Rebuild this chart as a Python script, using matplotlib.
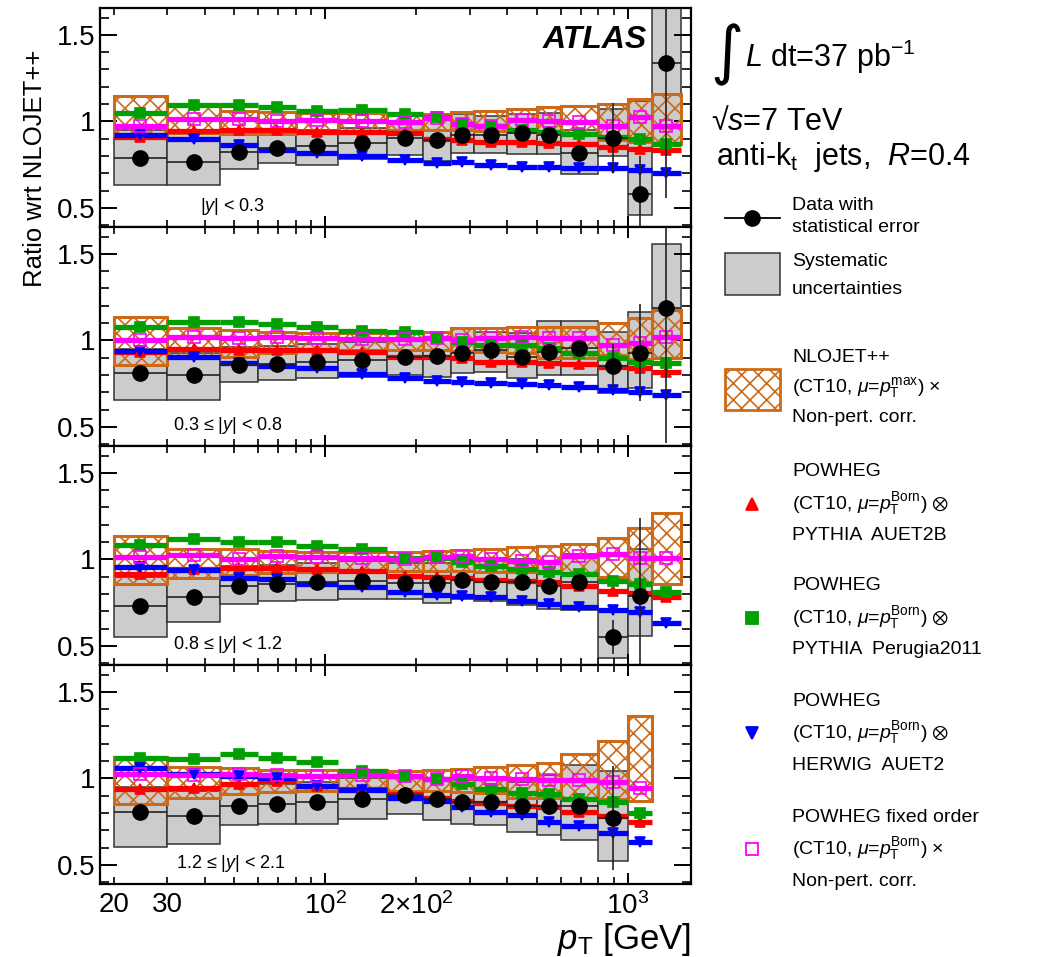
import numpy as np
import matplotlib
matplotlib.use('Agg')
import matplotlib.pyplot as plt
from matplotlib.ticker import FixedLocator, MultipleLocator, FuncFormatter, NullFormatter
from matplotlib.patches import Rectangle

plt.rcParams['font.family'] = ['Liberation Sans', 'DejaVu Sans']
plt.rcParams['mathtext.fontset'] = 'custom'
plt.rcParams['mathtext.rm'] = 'Liberation Sans'
plt.rcParams['mathtext.it'] = 'Liberation Sans:italic'
plt.rcParams['mathtext.bf'] = 'Liberation Sans:bold'
plt.rcParams['mathtext.fallback'] = 'stixsans'
plt.rcParams['hatch.linewidth'] = 1.2

# pT bin edges [GeV]
edges = [20, 30, 45, 60, 80, 110, 160, 210, 260, 310, 400, 500, 600, 800, 1000, 1200, 1500]

rap_labels = [r'$|y|$ < 0.3', r'0.3 ≤ $|y|$ < 0.8', r'0.8 ≤ $|y|$ < 1.2', r'1.2 ≤ $|y|$ < 2.1']

# data / NLOJET++ with stat. errors
data_1 = [0.79, 0.767, 0.824, 0.847, 0.856, 0.877, 0.904, 0.892, 0.919, 0.923, 0.934, 0.923, 0.816, 0.904, 0.58, 1.338]
data_2 = [0.814, 0.801, 0.858, 0.862, 0.877, 0.887, 0.902, 0.912, 0.925, 0.944, 0.902, 0.935, 0.954, 0.852, 0.929, 1.19]
data_3 = [0.73, 0.785, 0.849, 0.858, 0.868, 0.877, 0.862, 0.862, 0.883, 0.872, 0.868, 0.849, 0.868, 0.552, 0.787]
data_4 = [0.807, 0.785, 0.838, 0.851, 0.866, 0.883, 0.904, 0.883, 0.864, 0.861, 0.842, 0.842, 0.842, 0.771]

stat_1 = [0.004, 0.004, 0.005, 0.005, 0.005, 0.006, 0.006, 0.008, 0.01, 0.012, 0.018, 0.03, 0.04, 0.2, 0.22, 0.78]
stat_2 = [0.004, 0.004, 0.005, 0.005, 0.005, 0.006, 0.006, 0.008, 0.01, 0.012, 0.018, 0.03, 0.04, 0.13, 0.28, 0.78]
stat_3 = [0.004, 0.004, 0.005, 0.005, 0.005, 0.006, 0.006, 0.008, 0.01, 0.012, 0.018, 0.03, 0.04, 0.1, 0.45]
stat_4 = [0.004, 0.004, 0.005, 0.005, 0.005, 0.006, 0.006, 0.008, 0.01, 0.012, 0.018, 0.03, 0.05, 0.3]

# systematic uncertainty band on data
sys_lo_1 = [0.635, 0.635, 0.725, 0.76, 0.75, 0.785, 0.805, 0.77, 0.82, 0.82, 0.81, 0.81, 0.695, 0.8, 0.46, 0.87]
sys_hi_1 = [0.95, 0.93, 0.93, 0.94, 0.95, 0.96, 1.0, 1.02, 1.04, 1.03, 1.04, 1.05, 0.95, 1.07, 1.12, 1.8]
sys_lo_2 = [0.653, 0.653, 0.757, 0.77, 0.782, 0.79, 0.80, 0.79, 0.81, 0.82, 0.782, 0.8, 0.8, 0.695, 0.724, 0.9]
sys_hi_2 = [0.95, 0.93, 0.96, 0.97, 0.98, 0.99, 1.0, 1.02, 1.069, 1.05, 1.04, 1.113, 1.113, 1.05, 1.165, 1.557]
sys_lo_3 = [0.552, 0.638, 0.743, 0.762, 0.765, 0.772, 0.77, 0.75, 0.77, 0.76, 0.734, 0.715, 0.705, 0.43, 0.56]
sys_hi_3 = [0.9, 0.93, 0.96, 0.97, 0.98, 0.99, 0.98, 0.98, 1.0, 1.0, 1.0, 0.99, 1.031, 0.70, 1.06]
sys_lo_4 = [0.604, 0.623, 0.728, 0.737, 0.737, 0.766, 0.794, 0.76, 0.737, 0.728, 0.69, 0.671, 0.642, 0.523]
sys_hi_4 = [0.95, 0.93, 0.96, 0.97, 0.98, 1.0, 1.01, 1.0, 0.99, 0.99, 0.98, 1.02, 1.079, 1.045]

# NLOJET++ (CT10) x non-pert. corr. uncertainty band
nlo_lo_1 = [0.92, 0.935, 0.93, 0.93, 0.94, 0.945, 0.948, 0.948, 0.948, 0.945, 0.94, 0.935, 0.93, 0.89, 0.88, 0.871]
nlo_hi_1 = [1.148, 1.094, 1.06, 1.055, 1.05, 1.05, 1.043, 1.043, 1.052, 1.062, 1.071, 1.081, 1.087, 1.1, 1.129, 1.157]
nlo_lo_2 = [0.858, 0.906, 0.906, 0.93, 0.94, 0.945, 0.945, 0.945, 0.94, 0.935, 0.93, 0.897, 0.897, 0.916, 0.89, 0.897]
nlo_hi_2 = [1.136, 1.069, 1.06, 1.05, 1.045, 1.04, 1.045, 1.05, 1.069, 1.069, 1.075, 1.079, 1.079, 1.098, 1.13, 1.174]
nlo_lo_3 = [0.858, 0.895, 0.91, 0.92, 0.93, 0.935, 0.935, 0.935, 0.935, 0.93, 0.93, 0.925, 0.916, 0.897, 0.868, 0.858]
nlo_hi_3 = [1.136, 1.06, 1.06, 1.05, 1.045, 1.045, 1.045, 1.05, 1.055, 1.06, 1.07, 1.075, 1.088, 1.126, 1.18, 1.27]
nlo_lo_4 = [0.851, 0.889, 0.91, 0.92, 0.925, 0.925, 0.93, 0.93, 0.92, 0.915, 0.889, 0.889, 0.889, 0.879, 0.87]
nlo_hi_4 = [1.126, 1.064, 1.06, 1.05, 1.05, 1.05, 1.045, 1.05, 1.055, 1.065, 1.075, 1.088, 1.139, 1.215, 1.36]

# POWHEG + PYTHIA AUET2B
red_1 = [0.91, 0.944, 0.951, 0.948, 0.938, 0.938, 0.935, 0.9, 0.89, 0.881, 0.881, 0.878, 0.871, 0.852, 0.843, 0.833]
red_2 = [0.935, 0.95, 0.944, 0.944, 0.944, 0.931, 0.906, 0.906, 0.897, 0.877, 0.877, 0.868, 0.864, 0.845, 0.839, 0.82]
red_3 = [0.916, 0.944, 0.948, 0.948, 0.944, 0.935, 0.906, 0.897, 0.89, 0.881, 0.877, 0.868, 0.845, 0.816, 0.805, 0.782]
red_4 = [0.94, 0.946, 0.969, 0.984, 0.955, 0.936, 0.908, 0.889, 0.87, 0.855, 0.842, 0.832, 0.804, 0.785, 0.747]

# POWHEG + PYTHIA Perugia2011
green_1 = [1.047, 1.094, 1.094, 1.081, 1.058, 1.068, 1.045, 1.024, 0.986, 0.976, 0.948, 0.938, 0.929, 0.91, 0.9, 0.871]
green_2 = [1.079, 1.107, 1.107, 1.094, 1.075, 1.056, 1.05, 1.011, 0.992, 0.973, 0.973, 0.954, 0.925, 0.897, 0.877, 0.868]
green_3 = [1.082, 1.117, 1.103, 1.101, 1.079, 1.059, 1.008, 1.008, 0.983, 0.964, 0.944, 0.925, 0.916, 0.877, 0.858, 0.81]
green_4 = [1.117, 1.113, 1.139, 1.117, 1.092, 1.045, 1.012, 0.999, 0.969, 0.94, 0.917, 0.908, 0.883, 0.861, 0.798]

# POWHEG + HERWIG AUET2
blue_1 = [0.919, 0.9, 0.866, 0.837, 0.82, 0.8, 0.776, 0.757, 0.767, 0.748, 0.738, 0.738, 0.729, 0.729, 0.719, 0.7]
blue_2 = [0.941, 0.906, 0.868, 0.852, 0.839, 0.805, 0.782, 0.768, 0.757, 0.753, 0.747, 0.743, 0.73, 0.715, 0.701, 0.686]
blue_3 = [0.958, 0.939, 0.893, 0.887, 0.858, 0.839, 0.81, 0.795, 0.791, 0.782, 0.762, 0.743, 0.724, 0.705, 0.695, 0.632]
blue_4 = [1.06, 1.028, 1.016, 1.003, 0.955, 0.931, 0.889, 0.87, 0.832, 0.807, 0.79, 0.747, 0.724, 0.684, 0.633]

# POWHEG fixed order x non-pert. corr.
mag_1 = [0.972, 1.014, 1.014, 1.0, 1.01, 1.0, 0.999, 1.018, 0.986, 0.976, 1.01, 1.005, 0.999, 0.976, 1.024, 0.976]
mag_2 = [1.002, 1.017, 1.011, 1.017, 1.011, 1.006, 1.008, 1.011, 1.002, 1.011, 1.017, 1.011, 1.011, 0.973, 0.983, 1.017]
mag_3 = [1.011, 1.027, 1.002, 1.021, 1.011, 1.008, 1.002, 1.011, 1.021, 1.002, 0.989, 0.983, 1.021, 1.034, 1.008, 1.008]
mag_4 = [1.028, 1.022, 1.026, 1.022, 1.012, 1.022, 1.012, 0.999, 1.012, 1.003, 0.999, 0.993, 0.993, 0.98, 0.946]

panels = [
    (data_1, stat_1, sys_lo_1, sys_hi_1, nlo_lo_1, nlo_hi_1, red_1, green_1, blue_1, mag_1),
    (data_2, stat_2, sys_lo_2, sys_hi_2, nlo_lo_2, nlo_hi_2, red_2, green_2, blue_2, mag_2),
    (data_3, stat_3, sys_lo_3, sys_hi_3, nlo_lo_3, nlo_hi_3, red_3, green_3, blue_3, mag_3),
    (data_4, stat_4, sys_lo_4, sys_hi_4, nlo_lo_4, nlo_hi_4, red_4, green_4, blue_4, mag_4),
]
label_x = [38.5, 31.3, 31.3, 32.2]

ORANGE = '#cc6a1a'
GREEN = '#00a000'
GREY = '#cccccc'

W, H = 1039, 957
fig = plt.figure(figsize=(W / 100, H / 100), dpi=100)

edges = np.array(edges, dtype=float)
lo_e, hi_e = edges[:-1], edges[1:]
ctr = np.sqrt(lo_e * hi_e)

ax_left, ax_right = 100 / W, 691 / W
top_px, ph = 8, 219
axes = []
for i, (dat, st, slo, shi, nlo, nhi, red, grn, blu, mag) in enumerate(panels):
    y0 = 1 - (top_px + ph * (i + 1)) / H
    ax = fig.add_axes([ax_left, y0, ax_right - ax_left, ph / H])
    axes.append(ax)
    nd, nm = len(dat), len(red)

    # systematic band
    ax.bar(lo_e[:nd], np.array(shi) - np.array(slo), width=(hi_e - lo_e)[:nd],
           bottom=slo, align='edge', color=GREY, edgecolor='#333333', linewidth=1.1, zorder=1)
    # NLOJET++ band
    ax.bar(lo_e[:nm], np.array(nhi) - np.array(nlo), width=(hi_e - lo_e)[:nm],
           bottom=nlo, align='edge', facecolor='none', edgecolor=ORANGE, hatch='xx',
           linewidth=2.2, zorder=2)

    # MC predictions
    for vals, col, mk, fill in [(red, 'red', '^', True), (grn, GREEN, 's', True),
                                (blu, 'blue', 'v', True), (mag, 'magenta', 's', False)]:
        ax.hlines(vals, lo_e[:nm], hi_e[:nm], colors=col, linewidth=3.8, zorder=3)
        ax.plot(ctr[:nm], vals, mk, color=col, ms=7.5 if fill else 8,
                mfc=col if fill else 'none', mew=1.2, ls='none', zorder=4)

    # data
    ax.errorbar(ctr[:nd], dat, yerr=st, xerr=[ctr[:nd] - lo_e[:nd], hi_e[:nd] - ctr[:nd]],
                fmt='o', color='black', ms=11, elinewidth=1.2, ecolor='#222222',
                capsize=0, zorder=5)

    ax.text(label_x[i], 0.51, rap_labels[i], fontsize=13, va='center', ha='left')

    ax.set_xscale('log')
    ax.set_xlim(18, 1620)
    ax.set_ylim(0.39, 1.655)
    ax.yaxis.set_major_locator(FixedLocator([0.5, 1.0, 1.5]))
    ax.yaxis.set_minor_locator(MultipleLocator(0.1))
    ax.yaxis.set_major_formatter(FuncFormatter(lambda v, p: f'{v:g}'))
    ax.xaxis.set_major_locator(FixedLocator([100, 1000]))
    ax.xaxis.set_minor_locator(FixedLocator([20, 30, 40, 50, 60, 70, 80, 90,
                                             200, 300, 400, 500, 600, 700, 800, 900]))
    ax.tick_params(which='both', direction='in', top=True, right=True, labelsize=20)
    ax.tick_params(axis='y', which='major', length=12, width=1.4)
    ax.tick_params(axis='y', which='minor', length=6.5, width=1.2)
    ax.tick_params(axis='x', which='major', length=8, width=1.4)
    ax.tick_params(axis='x', which='minor', length=5, width=1.2)
    for s in ax.spines.values():
        s.set_linewidth(1.6)
    if i < 3:
        ax.xaxis.set_major_formatter(NullFormatter())
        ax.xaxis.set_minor_formatter(NullFormatter())
    else:
        ax.xaxis.set_major_formatter(FuncFormatter(
            lambda v, p: r'$\mathregular{10^{%d}}$' % round(np.log10(v))))
        minor_lab = {20: '20', 30: '30', 200: r'2$\mathregular{\times 10^{2}}$'}
        ax.xaxis.set_minor_formatter(FuncFormatter(
            lambda v, p: minor_lab.get(int(round(v)), '')))
        ax.tick_params(axis='x', which='both', pad=6)

axes[0].text(0.925, 0.855, 'ATLAS', transform=axes[0].transAxes, ha='right',
             va='center', fontsize=23, fontweight='bold', fontstyle='italic')

fig.text(35 / W, 1 - 168 / H, 'Ratio wrt NLOJET++', rotation=90,
         ha='center', va='center', fontsize=18.5)
fig.text(ax_right, 1 - 939 / H, r'$p_{\mathregular{T}}$ [GeV]', ha='right',
         va='center', fontsize=25)

# right-hand side text and legend, laid out in pixel coordinates
lax = fig.add_axes([0, 0, 1, 1])
lax.set_xlim(0, W)
lax.set_ylim(H, 0)
lax.axis('off')

lax.text(727, 55, '∫', fontsize=46, ha='center', va='center', family='DejaVu Sans')
lax.text(745, 57, r'$L$ dt=37 pb$^{\mathregular{-1}}$', fontsize=22, va='center')
lax.text(711, 122, r'√$s$=7 TeV', fontsize=22, va='center')
lax.text(716, 157, r'anti-k$_{\mathregular{t}}$  jets,  $R$=0.4', fontsize=22, va='center')

lx, tx, fs = 752, 792, 14
lax.plot([725, 780], [218, 218], color='black', lw=1.3)
lax.plot(lx, 218, 'o', color='black', ms=11)
lax.text(tx, 205, 'Data with', fontsize=fs, va='center')
lax.text(tx, 228, 'statistical error', fontsize=fs, va='center')

lax.add_patch(Rectangle((725, 253), 55, 42, facecolor=GREY, edgecolor='#333333', lw=1.1))
lax.text(tx, 262, 'Systematic', fontsize=fs, va='center')
lax.text(tx, 290, 'uncertainties', fontsize=fs, va='center')

lax.add_patch(Rectangle((725, 369), 55, 41, facecolor='none', edgecolor=ORANGE,
                        hatch='xx', lw=2))
lax.text(tx, 358, 'NLOJET++', fontsize=fs, va='center')
lax.text(tx, 387, r'(CT10, $\mu$=$p_{\mathregular{T}}^{\mathregular{max}}$) $\times$',
         fontsize=fs, va='center')
lax.text(tx, 418, 'Non-pert. corr.', fontsize=fs, va='center')

entries = [
    (504, 'red', '^', True, ['POWHEG', r'(CT10, $\mu$=$p_{\mathregular{T}}^{\mathregular{Born}}$) $\otimes$', 'PYTHIA  AUET2B']),
    (618, GREEN, 's', True, ['POWHEG', r'(CT10, $\mu$=$p_{\mathregular{T}}^{\mathregular{Born}}$) $\otimes$', 'PYTHIA  Perugia2011']),
    (733, 'blue', 'v', True, ['POWHEG', r'(CT10, $\mu$=$p_{\mathregular{T}}^{\mathregular{Born}}$) $\otimes$', 'HERWIG  AUET2']),
    (849, 'magenta', 's', False, ['POWHEG fixed order', r'(CT10, $\mu$=$p_{\mathregular{T}}^{\mathregular{Born}}$) $\times$', 'Non-pert. corr.']),
]
for yc, col, mk, fill, lines in entries:
    lax.plot(lx, yc, mk, color=col, ms=8.5, mfc=col if fill else 'none', mew=1.3)
    lax.text(tx, yc - 32, lines[0], fontsize=fs, va='center')
    lax.text(tx, yc, lines[1], fontsize=fs, va='center')
    lax.text(tx, yc + 32, lines[2], fontsize=fs, va='center')

fig.savefig('out.png', dpi=100)
